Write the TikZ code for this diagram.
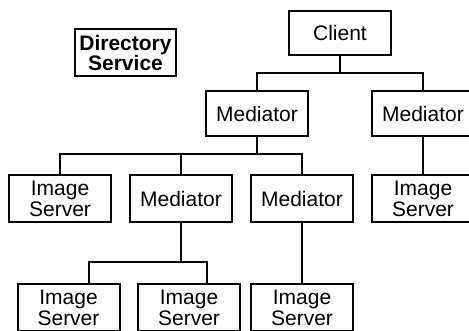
\documentclass[tikz,border=0pt]{standalone}
\usepackage{fontspec}
\setmainfont{Liberation Sans}
\usetikzlibrary{positioning, calc}

\begin{document}
\begin{tikzpicture}[
    x=1pt, y=-1pt,
    font=\fontsize{21}{21}\selectfont,
    box/.style={
        draw=black,
        line width=2pt,
        minimum width=102pt,
        minimum height=46pt,
        align=center,
        inner sep=0pt
    },
    link/.style={line width=2pt, color=black}
]
\useasboundingbox (0,0) rectangle (469,331);

\node[box, minimum width=101pt, minimum height=47pt, font=\fontsize{21}{20}\selectfont\bfseries] (dir) at (125.5, 52.5) {Directory\\Service};

\node[box, minimum height=44pt] (client) at (340, 33) {Client};

\node[box, minimum height=45pt] (medA) at (257, 113.5) {Mediator};
\node[box, minimum height=45pt] (medB) at (423, 113.5) {Mediator};

% second row
\node[box, minimum height=47pt] (srvA) at (60, 198.5) {Image\\Server};
\node[box, minimum height=47pt] (medC) at (181, 198.5) {Mediator};
\node[box, minimum height=47pt] (medD) at (302, 198.5) {Mediator};
\node[box, minimum height=47pt] (srvB) at (423, 198.5) {Image\\Server};

% third row
\node[box, minimum height=47pt] (srvC) at (68.5, 307.5) {Image\\Server};
\node[box, minimum height=47pt] (srvD) at (189, 307.5) {Image\\Server};
\node[box, minimum height=47pt] (srvE) at (302, 307.5) {Image\\Server};

\coordinate (busA) at (0, 73);
\coordinate (busB) at (0, 154);
\coordinate (busC) at (0, 262);
\coordinate (topC) at ([xshift=20.5pt]srvC.north);
\coordinate (topD) at ([xshift=18pt]srvD.north);

\draw[link] (client.south) -- (client.south |- busA);
\draw[link] (medA.north) -- (medA.north |- busA) -- (medB.north |- busA) -- (medB.north);
\draw[link] (medA.south) -- (medA.south |- busB);
\draw[link] (srvA.north) -- (srvA.north |- busB) -- (medD.north |- busB) -- (medD.north);
\draw[link] (medC.north) -- (medC.north |- busB);
\draw[link] (medB) -- (srvB);
\draw[link] (medC.south) -- (medC.south |- busC);
\draw[link] (topC) -- (topC |- busC) -- (topD |- busC) -- (topD);
\draw[link] (medD) -- (srvE);

\end{tikzpicture}
\end{document}
